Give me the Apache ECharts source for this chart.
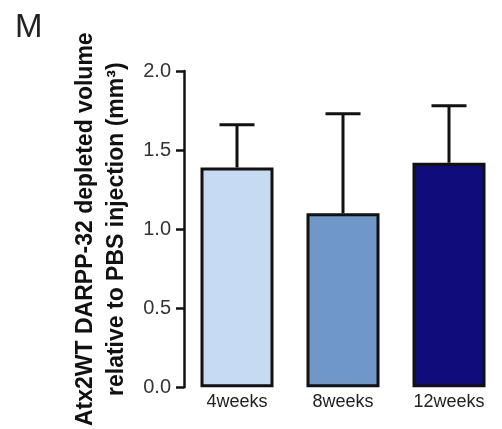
<!DOCTYPE html>
<html>
<head>
<meta charset="utf-8">
<script src="https://cdn.jsdelivr.net/npm/echarts@6/dist/echarts.min.js"></script>
<style>
html,body{margin:0;padding:0;background:#fff;}
#chart{width:502px;height:429px;}
</style>
</head>
<body>
<div id="chart"></div>
<script>
var categories = ['4weeks', '8weeks', '12weeks'];
var means = [1.39, 1.10, 1.42];
var errors = [0.27, 0.63, 0.36];
var barColors = ['#c6dbf3', '#6f98c9', '#110c7c'];
var yTicks = [0, 0.5, 1.0, 1.5, 2.0];
var panelLabel = 'M';
var yTitle = 'Atx2WT DARPP-32 depleted volume\nrelative to PBS injection (mm³)';

var chart = echarts.init(document.getElementById('chart'), null, {renderer: 'canvas'});

var barData = means.map(function (v, i) {
  return {value: v, itemStyle: {color: barColors[i]}};
});
var errData = means.map(function (v, i) { return [i, v, v + errors[i]]; });

chart.setOption({
  animation: false,
  backgroundColor: '#ffffff',
  title: {
    text: panelLabel,
    left: 10,
    top: 6,
    textStyle: {fontFamily: 'Liberation Sans', fontSize: 33, fontWeight: 'normal', color: '#222'}
  },
  grid: {left: 184, top: 71, width: 323, height: 321, containLabel: false},
  xAxis: {
    type: 'category',
    data: categories,
    axisLine: {show: false},
    axisTick: {show: false},
    axisLabel: {fontFamily: 'Liberation Sans', fontSize: 18, color: '#222', margin: 6}
  },
  yAxis: {
    type: 'value',
    min: yTicks[0],
    max: yTicks[yTicks.length - 1],
    interval: 0.5,
    splitLine: {show: false},
    axisLine: {show: true, lineStyle: {color: '#111', width: 2.5}},
    axisTick: {show: true, length: 8, lineStyle: {color: '#111', width: 2.5}},
    axisLabel: {
      fontFamily: 'Liberation Sans', fontSize: 20, color: '#333', margin: 13,
      formatter: function (v) { return v.toFixed(1); }
    },
    name: yTitle,
    nameLocation: 'middle',
    nameRotate: 90,
    nameGap: 50,
    nameTextStyle: {fontFamily: 'Liberation Sans', fontSize: 23, fontWeight: 'bold', color: '#111', lineHeight: 31, align: 'center'}
  },
  series: [
    {
      type: 'bar',
      data: barData,
      barWidth: 73,
      itemStyle: {borderColor: '#111', borderWidth: 3},
      z: 2
    },
    {
      type: 'custom',
      data: errData,
      z: 3,
      renderItem: function (params, api) {
        var x = api.value(0);
        var base = api.coord([x, api.value(1)]);
        var top = api.coord([x, api.value(2)]);
        var half = 17.5;
        var st = {stroke: '#111', lineWidth: 3};
        return {
          type: 'group',
          children: [
            {type: 'line', shape: {x1: base[0], y1: base[1], x2: top[0], y2: top[1]}, style: st},
            {type: 'line', shape: {x1: top[0] - half, y1: top[1], x2: top[0] + half, y2: top[1]}, style: st}
          ]
        };
      }
    }
  ]
});
</script>
</body>
</html>
